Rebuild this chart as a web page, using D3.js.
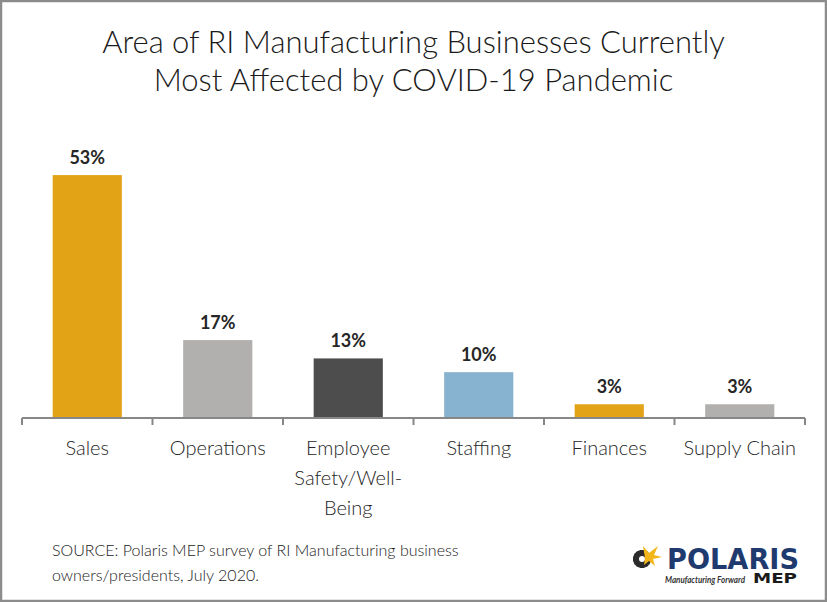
<!DOCTYPE html>
<html>
<head>
<meta charset="utf-8">
<script src="https://cdn.jsdelivr.net/npm/d3@7"></script>
<style>
  body { margin: 0; background: #fff; }
  svg text { font-family: Lato, "Open Sans", sans-serif; }
</style>
</head>
<body>
<div class="wrapper"></div>
<script>
const WIDTH = 827
const HEIGHT = 602
const margin = {left: 22, right: 22, top: 143, bottom: 184}

var categories = ['Sales', 'Operations', 'Employee Safety/Well-Being', 'Staffing', 'Finances', 'Supply Chain']
var categoryLines = [['Sales'], ['Operations'], ['Employee', 'Safety/Well-', 'Being'], ['Staffing'], ['Finances'], ['Supply Chain']]
var values = [53, 17, 13, 10, 3, 3]
var barColors = ['#E2A317', '#B1B0AE', '#4D4D4D', '#87B3D0', '#E2A317', '#B1B0AE']
var titleLines = ['Area of RI Manufacturing Businesses Currently', 'Most Affected by COVID-19 Pandemic']
var sourceLines = ['SOURCE: Polaris MEP survey of RI Manufacturing business', 'owners/presidents, July 2020.']

var svg = d3.select(".wrapper")
    .append("svg")
    .attr("width", WIDTH)
    .attr("height", HEIGHT)

// outer frame
svg.append("rect")
    .attr("x", 1).attr("y", 1)
    .attr("width", WIDTH - 2).attr("height", HEIGHT - 2)
    .attr("fill", "#fff")
    .attr("stroke", "#8C8C8C")
    .attr("stroke-width", 2.5)

var x = d3.scaleBand(categories, [margin.left, WIDTH - margin.right]).paddingInner(0).paddingOuter(0)
var y = d3.scaleLinear([0, 60], [HEIGHT - margin.bottom, margin.top])
var barW = x.bandwidth() * 0.53

svg.append("g")
    .selectAll("text")
    .data(titleLines)
    .join("text")
    .attr("x", WIDTH / 2)
    .attr("y", (d, i) => 53 + i * 38)
    .attr("text-anchor", "middle")
    .style("font-size", "31px")
    .style("font-weight", 300)
    .style("fill", "#1a1a1a")
    .text(d => d)

svg.append("g")
    .selectAll("rect")
    .data(values)
    .join("rect")
    .attr("x", (d, i) => x(categories[i]) + (x.bandwidth() - barW) / 2)
    .attr("y", d => y(d))
    .attr("width", barW)
    .attr("height", d => y(0) - y(d))
    .attr("fill", (d, i) => barColors[i])

svg.append("g")
    .selectAll("text")
    .data(values)
    .join("text")
    .attr("x", (d, i) => x(categories[i]) + x.bandwidth() / 2)
    .attr("y", d => y(d) - 11)
    .attr("text-anchor", "middle")
    .style("font-size", "18px")
    .style("font-weight", 700)
    .style("fill", "#262626")
    .text(d => d + "%")

// axis line with ticks at band edges
var axisG = svg.append("g").attr("class", "axis")
axisG.append("line")
    .attr("x1", x.range()[0]).attr("x2", x.range()[1])
    .attr("y1", y(0)).attr("y2", y(0))
    .attr("stroke", "#878787").attr("stroke-width", 2)
var edges = categories.map(c => x(c)).concat([x.range()[1]])
axisG.selectAll("line.tick")
    .data(edges)
    .join("line")
    .attr("class", "tick")
    .attr("x1", d => d).attr("x2", d => d)
    .attr("y1", y(0)).attr("y2", y(0) + 7)
    .attr("stroke", "#878787").attr("stroke-width", 2)

var labelG = svg.append("g")
categoryLines.forEach(function(lines, i) {
    labelG.append("text")
        .attr("text-anchor", "middle")
        .attr("x", x(categories[i]) + x.bandwidth() / 2)
        .attr("y", 455)
        .style("font-size", "20px")
        .style("font-weight", 300)
        .style("fill", "#262626")
        .selectAll("tspan")
        .data(lines)
        .join("tspan")
        .attr("x", x(categories[i]) + x.bandwidth() / 2)
        .attr("dy", (d, j) => j === 0 ? 0 : 30)
        .text(d => d)
})

svg.append("g")
    .selectAll("text")
    .data(sourceLines)
    .join("text")
    .attr("x", 52)
    .attr("y", (d, i) => 556 + i * 25)
    .style("font-size", "16px")
    .style("font-weight", 300)
    .style("fill", "#1a1a1a")
    .text(d => d)

// logo
var logo = svg.append("g").attr("transform", "translate(633,545)")
var gear = logo.append("g").attr("transform", "translate(9,14)")
gear.selectAll("rect")
    .data(d3.range(8))
    .join("rect")
    .attr("x", -2).attr("y", -9)
    .attr("width", 4).attr("height", 18)
    .attr("fill", "#2b2b2b")
    .attr("transform", d => `rotate(${d * 22.5})`)
gear.append("circle").attr("r", 6.5).attr("fill", "#2b2b2b")
gear.append("circle").attr("r", 3).attr("fill", "#fff")
logo.append("path")
    .attr("d", "M10,1 L16,8 L25,1 L21,10 L29,12 L20,14 L22,21 L16,16 L11,20 L12,13 Z")
    .attr("fill", "#F2B61B")
logo.append("text")
    .attr("x", 34).attr("y", 24)
    .style("font-family", "'DejaVu Sans', sans-serif")
    .style("font-size", "28px")
    .style("font-weight", 700)
    .style("fill", "#1F3A6E")
    .attr("textLength", 132)
    .attr("lengthAdjust", "spacingAndGlyphs")
    .text("POLARIS")
logo.append("text")
    .attr("x", 32).attr("y", 38)
    .style("font-size", "8.5px")
    .style("font-style", "italic")
    .style("font-weight", 700)
    .style("fill", "#333")
    .attr("textLength", 80)
    .attr("lengthAdjust", "spacingAndGlyphs")
    .text("Manufacturing Forward")
logo.append("text")
    .attr("x", 120).attr("y", 38)
    .style("font-family", "'DejaVu Sans', sans-serif")
    .style("font-size", "14px")
    .style("font-weight", 700)
    .style("fill", "#1a1a1a")
    .attr("textLength", 44)
    .attr("lengthAdjust", "spacingAndGlyphs")
    .text("MEP")
</script>
</body>
</html>
